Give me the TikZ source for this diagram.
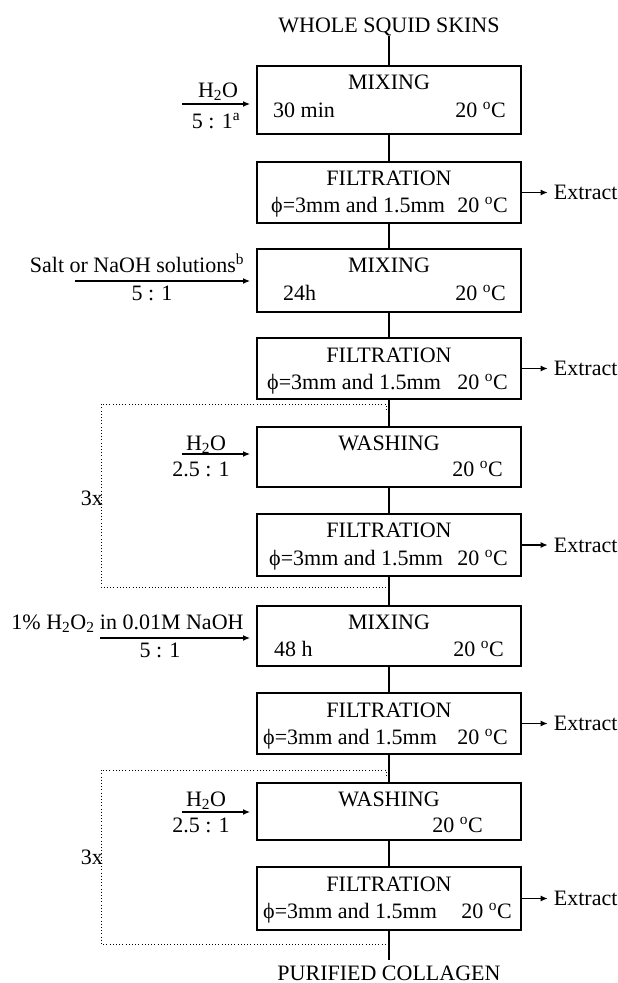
\documentclass[tikz,border=0pt]{standalone}
\usepackage{fontspec}
\setmainfont{Liberation Serif}
\usetikzlibrary{arrows.meta}
\newcommand{\degC}{\textsuperscript{o}C}
\begin{document}
\begin{tikzpicture}[x=1pt,y=-1pt,
  box/.style={draw, line width=1.4pt, minimum width=264pt, inner sep=0pt},
  lbl/.style={inner sep=0pt, font=\fontsize{22}{26}\selectfont},
  conn/.style={line width=1.4pt},
  arr/.style={line width=1.2pt, -{Latex[length=7pt,width=6pt]}},
  loopline/.style={line width=1pt, dash pattern=on 1pt off 2.2pt}]
\useasboundingbox (0,0) rectangle (618,983);

% top and bottom labels
\node[lbl, anchor=base] (top) at (389,32) {WHOLE SQUID SKINS};
\node[lbl, anchor=base] (pc) at (389,980) {PURIFIED COLLAGEN};

% boxes
\node[box, minimum height=68pt] (b1) at (389,100) {};
\node[box, minimum height=61pt] (b2) at (389,192.5) {};
\node[box, minimum height=63pt] (b3) at (389,280.5) {};
\node[box, minimum height=61pt] (b4) at (389,368.5) {};
\node[box, minimum height=60pt] (b5) at (389,457) {};
\node[box, minimum height=62pt] (b6) at (389,545) {};
\node[box, minimum height=60pt] (b7) at (389,636) {};
\node[box, minimum height=61pt] (b8) at (389,723.5) {};
\node[box, minimum height=57pt] (b9) at (389,811.5) {};
\node[box, minimum height=63pt] (b10) at (389,898.5) {};

% box texts
\node[lbl, anchor=base] (b1t) at (389,89) {MIXING};
\node[lbl, anchor=base west] (b1l) at (273,117) {30 min};
\node[lbl, anchor=base east] (b1r) at (506,117) {20 \degC};

\node[lbl, anchor=base] (b2t) at (389,185) {FILTRATION};
\node[lbl, anchor=base west] (b2l) at (271,212) {ϕ=3mm and 1.5mm};
\node[lbl, anchor=base east] (b2r) at (508,212) {20 \degC};

\node[lbl, anchor=base] (b3t) at (389,272) {MIXING};
\node[lbl, anchor=base west] (b3l) at (283,300) {24h};
\node[lbl, anchor=base east] (b3r) at (506,300) {20 \degC};

\node[lbl, anchor=base] (b4t) at (389,362) {FILTRATION};
\node[lbl, anchor=base west] (b4l) at (267,389) {ϕ=3mm and 1.5mm};
\node[lbl, anchor=base east] (b4r) at (508,389) {20 \degC};

\node[lbl, anchor=base] (b5t) at (389,450) {WASHING};
\node[lbl, anchor=base east] (b5r) at (503,476) {20 \degC};

\node[lbl, anchor=base] (b6t) at (389,537) {FILTRATION};
\node[lbl, anchor=base west] (b6l) at (269,565) {ϕ=3mm and 1.5mm};
\node[lbl, anchor=base east] (b6r) at (508,565) {20 \degC};

\node[lbl, anchor=base] (b7t) at (389,629) {MIXING};
\node[lbl, anchor=base west] (b7l) at (274,656) {48 h};
\node[lbl, anchor=base east] (b7r) at (504,656) {20 \degC};

\node[lbl, anchor=base] (b8t) at (389,717) {FILTRATION};
\node[lbl, anchor=base west] (b8l) at (263,744) {ϕ=3mm and 1.5mm};
\node[lbl, anchor=base east] (b8r) at (508,744) {20 \degC};

\node[lbl, anchor=base] (b9t) at (389,806) {WASHING};
\node[lbl, anchor=base east] (b9r) at (483,832) {20 \degC};

\node[lbl, anchor=base] (b10t) at (389,891) {FILTRATION};
\node[lbl, anchor=base west] (b10l) at (263,918) {ϕ=3mm and 1.5mm};
\node[lbl, anchor=base east] (b10r) at (512,918) {20 \degC};

% vertical connectors
\draw[conn] (top.south) -- (b1.north);
\draw[conn] (b1.south) -- (b2.north);
\draw[conn] (b2.south) -- (b3.north);
\draw[conn] (b3.south) -- (b4.north);
\draw[conn] (b4.south) -- (b5.north);
\draw[conn] (b5.south) -- (b6.north);
\draw[conn] (b6.south) -- (b7.north);
\draw[conn] (b7.south) -- (b8.north);
\draw[conn] (b8.south) -- (b9.north);
\draw[conn] (b9.south) -- (b10.north);
\draw[conn] (b10.south) -- ([yshift=5pt]pc.north);

% extract outputs
\foreach \b in {b2,b4,b6,b8,b10}{
  \node[lbl, anchor=west] (\b x) at ([xshift=32pt]\b.east) {Extract};
  \draw[arr] (\b.east) -- ([xshift=-6pt]\b x.west);
}

% inputs
\node[lbl, anchor=base] (i1a) at (218,97) {H\textsubscript{2}O};
\node[lbl, anchor=base] (i1b) at (216,128) {5 : 1\textsuperscript{a}};
\coordinate (i1s) at (182,104);
\coordinate (i1e) at (250,104);
\draw[arr] (i1s) -- (i1e);

\node[lbl, anchor=base] (i3a) at (137,272) {Salt or NaOH solutions\textsuperscript{b}};
\node[lbl, anchor=base] (i3b) at (152,300) {5 : 1};
\coordinate (i3s) at (75,281);
\coordinate (i3e) at (250,281);
\draw[arr] (i3s) -- (i3e);

\node[lbl, anchor=base] (i5a) at (206,450) {H\textsubscript{2}O};
\node[lbl, anchor=base] (i5b) at (201,476) {2.5 : 1};
\coordinate (i5s) at (182,454);
\coordinate (i5e) at (250,454);
\draw[arr] (i5s) -- (i5e);

\node[lbl, anchor=base] (i7a) at (127.5,629) {1\% H\textsubscript{2}O\textsubscript{2} in 0.01M NaOH};
\node[lbl, anchor=base] (i7b) at (160,657) {5 : 1};
\coordinate (i7s) at (100,638);
\coordinate (i7e) at (250,638);
\draw[arr] (i7s) -- (i7e);

\node[lbl, anchor=base] (i9a) at (206,806) {H\textsubscript{2}O};
\node[lbl, anchor=base] (i9b) at (201,832) {2.5 : 1};
\coordinate (i9s) at (182,812);
\coordinate (i9e) at (250,812);
\draw[arr] (i9s) -- (i9e);

% repeat loops
\coordinate (l1a) at (386,410);
\coordinate (l1b) at (386,404);
\coordinate (l1c) at (101,404);
\coordinate (l1d) at (101,587);
\coordinate (l1e) at (386,587);
\draw[loopline] (l1a) -- (l1b) -- (l1c) -- (l1d) -- (l1e);
\node[lbl, anchor=base east] (r1) at (103,505) {3x};

\coordinate (l2a) at (386,776);
\coordinate (l2b) at (386,770);
\coordinate (l2c) at (101,770);
\coordinate (l2d) at (101,944);
\coordinate (l2e) at (386,944);
\draw[loopline] (l2a) -- (l2b) -- (l2c) -- (l2d) -- (l2e);
\node[lbl, anchor=base east] (r2) at (103,864) {3x};
\end{tikzpicture}
\end{document}
